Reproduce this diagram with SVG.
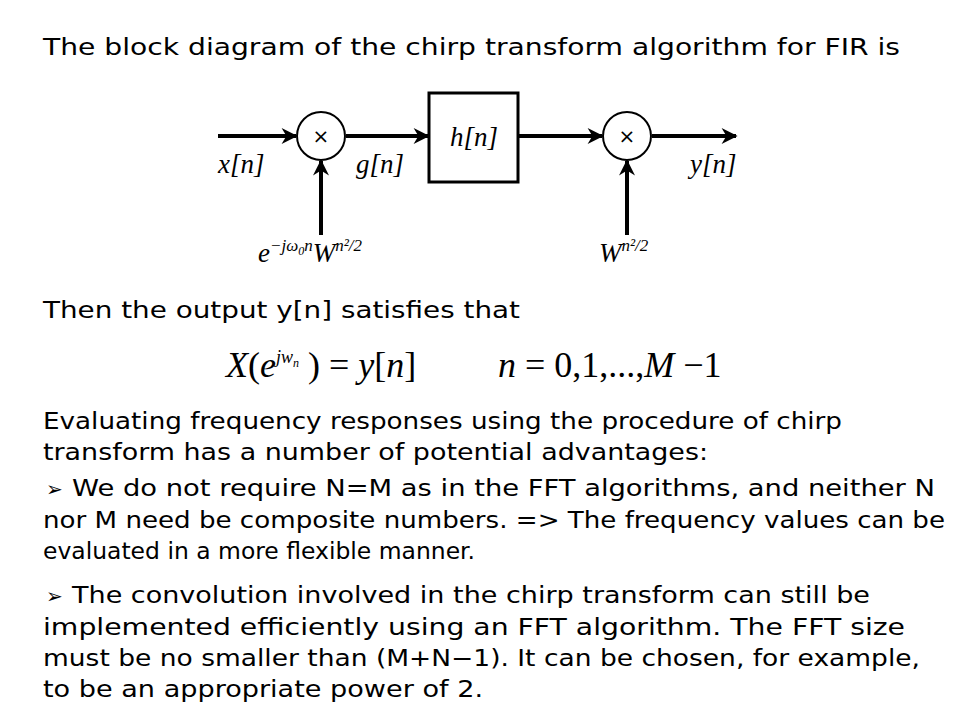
<svg xmlns="http://www.w3.org/2000/svg" width="960" height="720" viewBox="0 0 960 720">
<style>
.t{font-family:"DejaVu Sans","Liberation Sans",sans-serif;font-size:23px;fill:#000}
.m{font-family:"Liberation Serif",serif;font-style:italic;font-size:27px;fill:#000}
.ln{stroke:#000;stroke-width:4;fill:none}
</style>
<defs><marker id="a" viewBox="0 0 10 10" refX="9" refY="5" markerWidth="5" markerHeight="4" orient="auto" markerUnits="strokeWidth"><path d="M0,0 L10,5 L0,10 L3,5 z" fill="#000"/></marker></defs>
<rect width="960" height="720" fill="#fff"/>
<text class="t" x="43" y="55" textLength="857" lengthAdjust="spacingAndGlyphs">The block diagram of the chirp transform algorithm for FIR is</text>
<g id="mul1"><circle cx="321" cy="136" r="24" fill="#fff" stroke="#000" stroke-width="2"/><text x="321" y="143" text-anchor="middle" font-family="DejaVu Sans,sans-serif" font-size="20">×</text></g>
<g id="h"><rect x="429" y="93" width="89" height="89" fill="#fff" stroke="#000" stroke-width="3"/><text class="m" x="474" y="146" text-anchor="middle">h[n]</text></g>
<g id="mul2"><circle cx="627" cy="136" r="24" fill="#fff" stroke="#000" stroke-width="2"/><text x="627" y="143" text-anchor="middle" font-family="DejaVu Sans,sans-serif" font-size="20">×</text></g>
<g id="connectors">
<line class="ln" x1="218" y1="136" x2="296" y2="136" marker-end="url(#a)"/>
<line class="ln" x1="346" y1="136" x2="428" y2="136" marker-end="url(#a)"/>
<line class="ln" x1="519" y1="136" x2="602" y2="136" marker-end="url(#a)"/>
<line class="ln" x1="652" y1="136" x2="736" y2="136" marker-end="url(#a)"/>
<line class="ln" x1="321" y1="235" x2="321" y2="161" marker-end="url(#a)"/>
<line class="ln" x1="627" y1="235" x2="627" y2="161" marker-end="url(#a)"/>
</g>
<text class="m" x="218" y="173">x[n]</text>
<text class="m" x="356" y="173">g[n]</text>
<text class="m" x="690" y="173">y[n]</text>
<text class="m" x="258" y="262">e<tspan font-size="17" dy="-11">−jω<tspan font-size="12" dy="4">0</tspan><tspan dy="-4">n</tspan></tspan><tspan dy="11">W</tspan><tspan font-size="17" dy="-11">n²/2</tspan></text>
<text class="m" x="599" y="262">W<tspan font-size="17" dy="-11">n²/2</tspan></text>
<text class="t" x="43" y="318" textLength="477" lengthAdjust="spacingAndGlyphs">Then the output y[n] satisfies that</text>
<text x="226" y="377" font-family="Liberation Serif,serif" font-size="36"><tspan font-style="italic">X</tspan>(<tspan font-style="italic">e</tspan><tspan font-size="18" dy="-14" font-style="italic">jw<tspan font-size="12" dy="4">n</tspan></tspan><tspan dy="10"> ) = </tspan><tspan font-style="italic">y</tspan>[<tspan font-style="italic">n</tspan>]</text>
<text x="498" y="377" font-family="Liberation Serif,serif" font-size="36"><tspan font-style="italic">n</tspan> = 0,1,...,<tspan font-style="italic">M</tspan> −1</text>
<g class="t">
<text x="43" y="429" textLength="799" lengthAdjust="spacingAndGlyphs">Evaluating frequency responses using the procedure of chirp</text>
<text x="43" y="460" textLength="665" lengthAdjust="spacingAndGlyphs">transform has a number of potential advantages:</text>
<text x="46" y="496" font-size="20">➢</text>
<text x="72" y="496" textLength="863" lengthAdjust="spacingAndGlyphs">We do not require N=M as in the FFT algorithms, and neither N</text>
<text x="43" y="528" textLength="902" lengthAdjust="spacingAndGlyphs">nor M need be composite numbers. =&gt; The frequency values can be</text>
<text x="43" y="559" textLength="432" lengthAdjust="spacingAndGlyphs">evaluated in a more flexible manner.</text>
<text x="46" y="603" font-size="20">➢</text>
<text x="72" y="603" textLength="798" lengthAdjust="spacingAndGlyphs">The convolution involved in the chirp transform can still be</text>
<text x="43" y="635" textLength="862" lengthAdjust="spacingAndGlyphs">implemented efficiently using an FFT algorithm. The FFT size</text>
<text x="43" y="666" textLength="877" lengthAdjust="spacingAndGlyphs">must be no smaller than (M+N−1). It can be chosen, for example,</text>
<text x="43" y="697" textLength="440" lengthAdjust="spacingAndGlyphs">to be an appropriate power of 2.</text>
</g>
</svg>
